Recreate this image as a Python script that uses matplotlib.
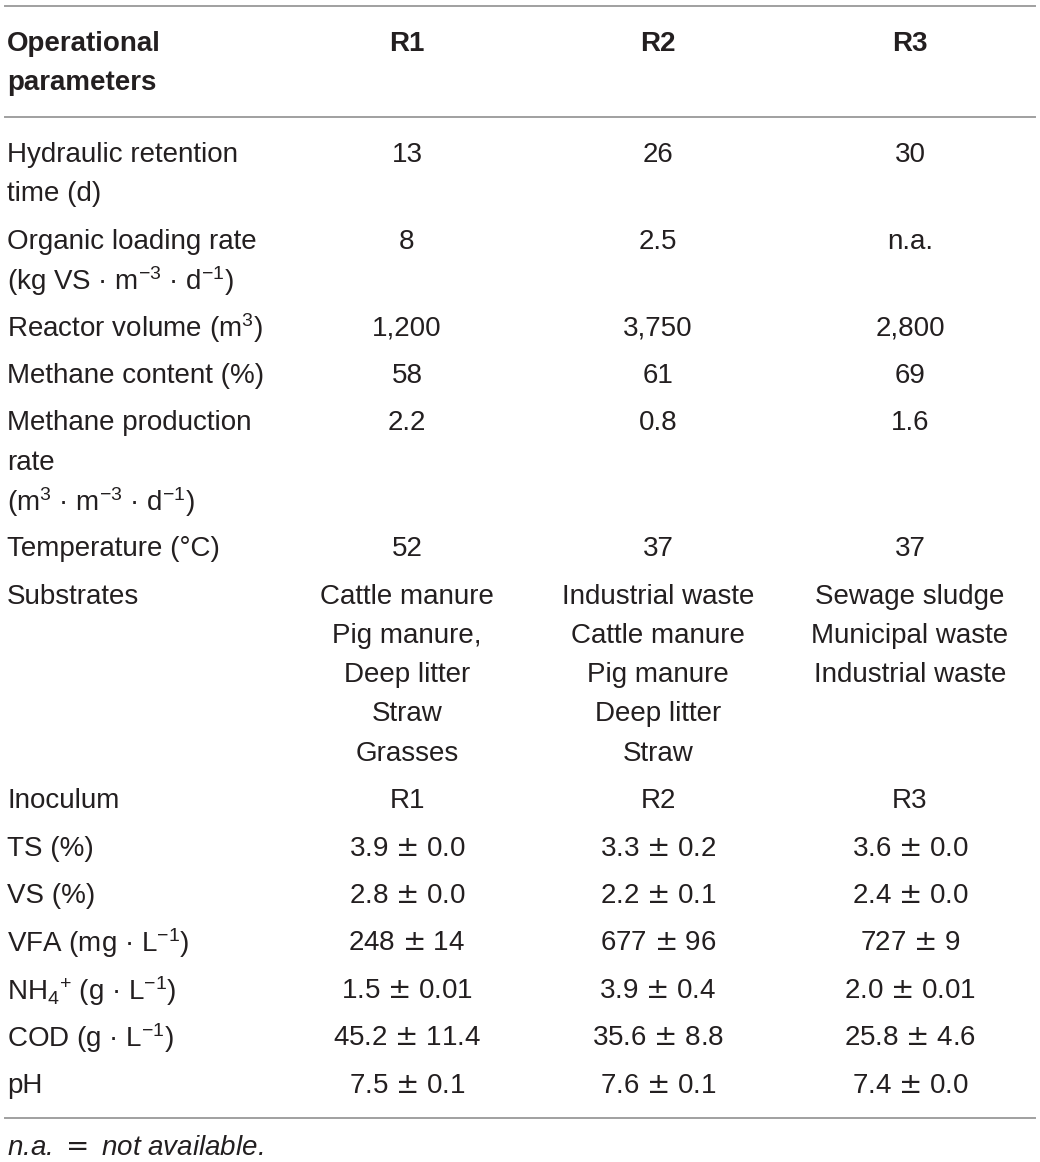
import matplotlib.pyplot as plt

plt.rcParams['font.family'] = ['Liberation Sans', 'DejaVu Sans']
plt.rcParams['mathtext.fontset'] = 'custom'
plt.rcParams['mathtext.rm'] = 'Liberation Sans'
plt.rcParams['mathtext.it'] = 'Liberation Sans:italic'
plt.rcParams['mathtext.bf'] = 'Liberation Sans:bold'
plt.rcParams['mathtext.sf'] = 'DejaVu Sans'
plt.rcParams['mathtext.default'] = 'regular'

PM = r" $\mathsf{\pm}$ "  # larger plus-minus glyph, as in the source

# table content, one list of lines per cell
header = [["Operational", "parameters"], ["R1"], ["R2"], ["R3"]]

parameters = [
    ["Hydraulic retention", "time (d)"],
    ["Organic loading rate", "(kg VS · m$^{-3}$ · d$^{-1}$)"],
    ["Reactor volume (m$^{3}$)"],
    ["Methane content (%)"],
    ["Methane production", "rate", "(m$^{3}$ · m$^{-3}$ · d$^{-1}$)"],
    ["Temperature (°C)"],
    ["Substrates"],
    ["Inoculum"],
    ["TS (%)"],
    ["VS (%)"],
    ["VFA (mg · L$^{-1}$)"],
    ["NH$_{4}$$^{+}$ (g · L$^{-1}$)"],
    ["COD (g · L$^{-1}$)"],
    ["pH"],
]

r1 = [["13"], ["8"], ["1,200"], ["58"], ["2.2"], ["52"],
      ["Cattle manure", "Pig manure,", "Deep litter", "Straw", "Grasses"],
      ["R1"], ["3.9" + PM + "0.0"], ["2.8" + PM + "0.0"], ["248" + PM + "14"],
      ["1.5" + PM + "0.01"], ["45.2" + PM + "11.4"], ["7.5" + PM + "0.1"]]

r2 = [["26"], ["2.5"], ["3,750"], ["61"], ["0.8"], ["37"],
      ["Industrial waste", "Cattle manure", "Pig manure", "Deep litter", "Straw"],
      ["R2"], ["3.3" + PM + "0.2"], ["2.2" + PM + "0.1"], ["677" + PM + "96"],
      ["3.9" + PM + "0.4"], ["35.6" + PM + "8.8"], ["7.6" + PM + "0.1"]]

r3 = [["30"], ["n.a."], ["2,800"], ["69"], ["1.6"], ["37"],
      ["Sewage sludge", "Municipal waste", "Industrial waste"],
      ["R3"], ["3.6" + PM + "0.0"], ["2.4" + PM + "0.0"], ["727" + PM + "9"],
      ["2.0" + PM + "0.01"], ["25.8" + PM + "4.6"], ["7.4" + PM + "0.0"]]

footnote = r"n.a. $\mathsf{=}$ not available."

# layout in pixels
W, H = 1040, 1162
col_x = [7, 407, 658, 910]
line_h = 39.3
row_gap = 47.4
fs = 20
ink = '#231f20'
rule = '#a0a0a0'

fig = plt.figure(figsize=(W / 100, H / 100), dpi=100)
ax = fig.add_axes([0, 0, 1, 1])
ax.set_xlim(0, W)
ax.set_ylim(H, 0)
ax.axis('off')


def draw_cell(lines, x, y0, ha, weight='normal'):
    for k, s in enumerate(lines):
        dy = 2 if '^' in s or '_' in s else 0  # scripts push mathtext up a bit
        ax.text(x, y0 + k * line_h + dy, s, ha=ha, va='baseline', fontsize=fs,
                color=ink, fontweight=weight)


# header
for j, cell in enumerate(header):
    draw_cell(cell, col_x[j], 51, 'left' if j == 0 else 'center', 'bold')

ax.plot([5, 1035], [6, 6], color=rule, lw=1.4)
ax.plot([5, 1035], [117, 117], color=rule, lw=1.4)

# body
y = 162
for i in range(len(parameters)):
    cells = [parameters[i], r1[i], r2[i], r3[i]]
    for j, cell in enumerate(cells):
        draw_cell(cell, col_x[j], y, 'left' if j == 0 else 'center')
    n = max(len(c) for c in cells)
    y += (n - 1) * line_h + row_gap

ax.plot([5, 1035], [1118, 1118], color=rule, lw=1.4)
ax.text(7, 1155, footnote, ha='left', va='baseline', fontsize=fs,
        color=ink, style='italic')

plt.savefig('out.png', dpi=100)
